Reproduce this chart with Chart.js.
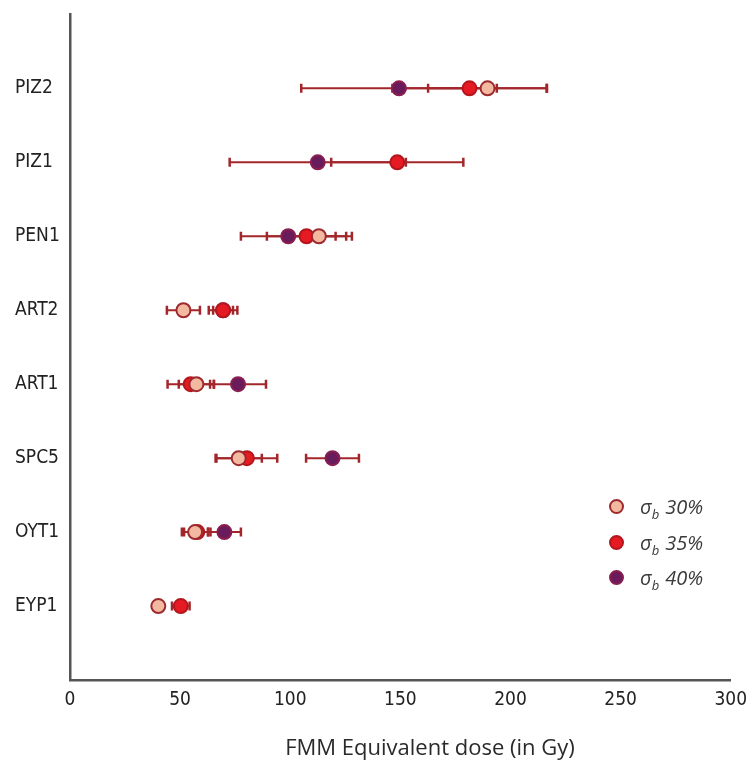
<!DOCTYPE html>
<html>
<head>
<meta charset="utf-8">
<script src="https://cdn.jsdelivr.net/npm/chart.js@4.4.1/dist/chart.umd.min.js"></script>
<style>
  html, body { margin: 0; padding: 0; background: #fff; }
  #wrap { position: relative; width: 756px; height: 764px; }
  #legend {
    position: absolute; left: 609px; top: 489px;
    font-family: "Open Sans", sans-serif; font-style: italic; font-size: 20px; color: #3a3a3a;
  }
  .item { height: 35.5px; display: flex; align-items: center; }
  .dot { width: 11px; height: 11px; border-radius: 50%; border: 2px solid; margin-right: 16px; }
  .item sub { font-size: 13px; line-height: 0; margin-right: 6px; }
</style>
</head>
<body>
<div id="wrap">
  <canvas id="doseChart" width="756" height="764"></canvas>
  <div id="legend">
    <div class="item"><span class="dot" style="background:#f2b9a0;border-color:#9e2a2f"></span><span>σ<sub>b</sub>30%</span></div>
    <div class="item"><span class="dot" style="background:#e51a22;border-color:#b3161d"></span><span>σ<sub>b</sub>35%</span></div>
    <div class="item"><span class="dot" style="background:#6a1b5c;border-color:#8a1f4f"></span><span>σ<sub>b</sub>40%</span></div>
  </div>
</div>
<script>
// samples, bottom to top
const categories = ['EYP1', 'OYT1', 'SPC5', 'ART1', 'ART2', 'PEN1', 'PIZ1', 'PIZ2'];
const rowPos = [1, 2, 3, 4, 5, 6, 7, 8];

// equivalent dose (Gy) and error for each overdispersion value
const sb30 = [40.1, 56.8, 76.6, 57.4, 51.5, 113.0, null, 189.6];
const sb30Err = [null, 6.0, 10.5, 8.0, 7.5, 15.0, null, 27.0];
const sb35 = [50.3, 57.8, 80.3, 54.8, 69.5, 107.4, 148.6, 181.4];
const sb35Err = [4.0, 6.0, 13.8, 10.5, 6.5, 18.0, 30.0, 35.0];
const sb40 = [null, 70.1, 119.2, 76.3, 69.5, 99.1, 112.5, 149.4];
const sb40Err = [null, 7.5, 12.0, 12.7, 4.5, 21.5, 40.0, 44.4];

const xTicks = [0, 50, 100, 150, 200, 250, 300];

const barColor = '#a3262b';
const tickFont = { family: '"Liberation Sans Narrow", "DejaVu Sans Condensed", sans-serif', size: 19 };

function points(vals) {
    return vals.map((v, i) => v == null ? null : { x: v, y: rowPos[i] }).filter(p => p);
}

// each error bar = two points + a null point to break the line
function bars(vals, errs) {
    const out = [];
    vals.forEach((v, i) => {
        if (v == null || errs[i] == null) return;
        out.push({ x: v - errs[i], y: rowPos[i] }, { x: v + errs[i], y: rowPos[i] }, { x: v, y: null });
    });
    return out;
}

function markerSet(label, vals, fill, edge) {
    return {
        label, data: points(vals),
        backgroundColor: fill, borderColor: edge,
        pointRadius: 7, pointBorderWidth: 2, pointHoverRadius: 7
    };
}

function errorSet(vals, errs) {
    return {
        data: bars(vals, errs), showLine: true, spanGaps: false,
        borderColor: barColor, borderWidth: 2,
        pointStyle: 'line', rotation: 90, pointRadius: 4.5,
        pointBorderColor: barColor, pointBorderWidth: 2.5
    };
}

// title sits a bit right of the plot centre in the original
const axisTitle = {
    id: 'axisTitle',
    afterDraw(chart) {
        const ctx = chart.ctx;
        ctx.save();
        ctx.font = '22px "Open Sans", sans-serif';
        ctx.fillStyle = '#2a2a2a';
        ctx.textAlign = 'center';
        ctx.textBaseline = 'alphabetic';
        ctx.fillText('FMM Equivalent dose (in Gy)', 430, 755);
        ctx.restore();
    }
};

new Chart(document.getElementById('doseChart'), {
    type: 'scatter',
    data: {
        datasets: [
            markerSet('σb 30%', sb30, '#f2b9a0', '#9e2a2f'),
            markerSet('σb 35%', sb35, '#e51a22', '#b3161d'),
            markerSet('σb 40%', sb40, '#6a1b5c', '#8a1f4f'),
            errorSet(sb30, sb30Err),
            errorSet(sb35, sb35Err),
            errorSet(sb40, sb40Err)
        ]
    },
    options: {
        responsive: false,
        animation: false,
        layout: { padding: { left: 15, top: 5, right: 20, bottom: 0 } },
        plugins: { legend: { display: false }, tooltip: { enabled: false } },
        scales: {
            x: {
                type: 'linear', min: 0, max: 300,
                afterBuildTicks: s => { s.ticks = xTicks.map(v => ({ value: v })); },
                afterFit: s => { s.height = 84; },
                ticks: { font: tickFont, color: '#222', padding: 9, maxRotation: 0 },
                grid: { display: false, drawTicks: false },
                border: { color: '#555', width: 2.5 }
            },
            y: {
                type: 'linear', min: 0, max: 9,
                afterBuildTicks: s => { s.ticks = rowPos.map(v => ({ value: v })); },
                afterFit: s => { s.width = 55; },
                ticks: {
                    font: tickFont, color: '#222', crossAlign: 'far',
                    callback: v => categories[v - 1] || ''
                },
                grid: { display: false, drawTicks: false },
                border: { color: '#555', width: 2.5 }
            }
        }
    },
    plugins: [axisTitle]
});
</script>
</body>
</html>
